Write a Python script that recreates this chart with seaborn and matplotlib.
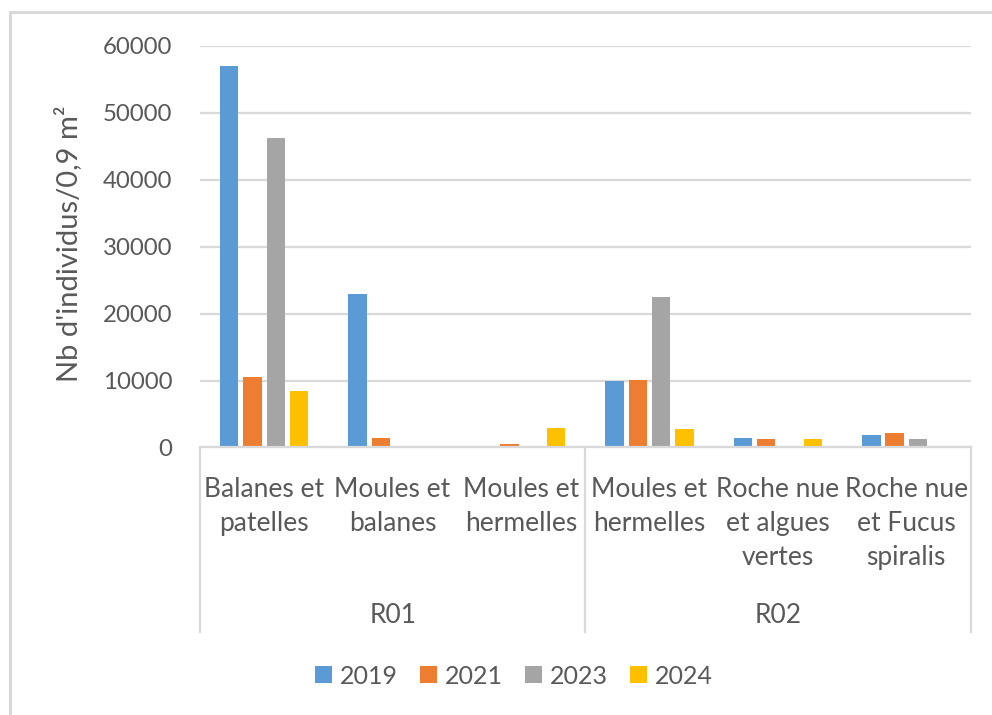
import matplotlib
matplotlib.use("Agg")
import matplotlib.pyplot as plt
from matplotlib.patches import Patch, Rectangle
from matplotlib.lines import Line2D
import seaborn as sns
import pandas as pd

# ---- data ----
groups = ["R01", "R01", "R01", "R02", "R02", "R02"]
habitats = [
    "Balanes et\npatelles",
    "Moules et\nbalanes",
    "Moules et\nhermelles",
    "Moules et\nhermelles",
    "Roche nue\net algues\nvertes",
    "Roche nue\net Fucus\nspiralis",
]
years = ["2019", "2021", "2023", "2024"]
v2019 = [57000, 22900, 0, 9900, 1450, 1900]
v2021 = [10550, 1450, 500, 10100, 1200, 2100]
v2023 = [46200, 0, 0, 22450, 0, 1200]
v2024 = [8450, 0, 2850, 2800, 1200, 0]
colors = ["#5B9BD5", "#ED7D31", "#A5A5A5", "#FFC000"]
yticks = [0, 10000, 20000, 30000, 40000, 50000, 60000]
ylabel = "Nb d'individus/0,9 m²"

keys = [f"{g}|{h}" for g, h in zip(groups, habitats)]
rows = []
for yr, vals in zip(years, [v2019, v2021, v2023, v2024]):
    for k, v in zip(keys, vals):
        rows.append({"cat": k, "year": yr, "val": v})
df = pd.DataFrame(rows)

TXT = "#595959"
GRID = "#D9D9D9"
W, H = 992, 715

fig = plt.figure(figsize=(W / 100, H / 100), dpi=100)
fig.patch.set_facecolor("white")
y0pix, y60pix = 447.5, 46.0
ax = fig.add_axes([200 / W, 1 - y0pix / H, 770.5 / W, (y0pix - y60pix) / H])

sns.barplot(data=df, x="cat", y="val", hue="year", order=keys, hue_order=years,
            palette=colors, saturation=1, width=0.727, gap=0.21, ax=ax,
            legend=False, errorbar=None, linewidth=0)

ax.set_xlim(-0.5, len(keys) - 0.5)
ax.set_ylim(0, 60000)
ax.set_yticks(yticks)
ax.set_yticklabels([str(t) for t in yticks], fontfamily="Lato", fontsize=17.3, color=TXT)
ax.tick_params(axis="y", length=0, pad=20)
ax.tick_params(axis="x", length=0, labelbottom=False)
ax.set_xlabel("")
ax.set_ylabel(ylabel, fontfamily="Lato", fontsize=21, color=TXT)
ax.yaxis.set_label_coords((82 - 200) / 770.5, (y0pix - 244) / (y0pix - y60pix))
for s in ["top", "right", "left"]:
    ax.spines[s].set_visible(False)
ax.spines["bottom"].set_color(GRID)
ax.spines["bottom"].set_linewidth(1.6)
ax.grid(axis="y", color=GRID, linewidth=1.6)
ax.set_axisbelow(True)
ax.set_facecolor("white")

trans = ax.get_xaxis_transform()
span = y0pix - y60pix

def yfrac(ypix):
    return (y0pix - ypix) / span

# category labels
for i, h in enumerate(habitats):
    for j, line in enumerate(h.split("\n")):
        ax.text(i, yfrac(497 + 34 * j), line, transform=trans, ha="center",
                va="baseline", fontfamily="Lato", fontsize=19, color=TXT)

# group labels + separators
grp_names = []
for g in groups:
    if g not in grp_names:
        grp_names.append(g)
bounds = [-0.5]
for g in grp_names:
    idx = [i for i, gg in enumerate(groups) if gg == g]
    ax.text((idx[0] + idx[-1]) / 2, yfrac(623), g, transform=trans, ha="center",
            va="baseline", fontfamily="Lato", fontsize=19, color=TXT)
    bounds.append(idx[-1] + 0.5)
for b in bounds:
    ax.add_line(Line2D([b, b], [0, yfrac(632)], transform=trans, color=GRID,
                       linewidth=1.6, clip_on=False))

# legend
handles = [Patch(facecolor=c, edgecolor="none", label=y) for c, y in zip(colors, years)]
leg = fig.legend(handles=handles, loc="center", bbox_to_anchor=(514 / W, 1 - 676 / H),
                 ncol=4, frameon=False, handlelength=0.68, handleheight=0.68,
                 handletextpad=0.3, columnspacing=0.9,
                 prop={"family": "Lato", "size": 18})
for t in leg.get_texts():
    t.set_color(TXT)

# outer chart frame
fig.patches.append(Rectangle((9.5 / W, -20 / H), 1.1, (715 + 20 - 12) / H,
                             transform=fig.transFigure, fill=False,
                             edgecolor=GRID, linewidth=2.2, zorder=0))

fig.savefig("out.png", dpi=100)
